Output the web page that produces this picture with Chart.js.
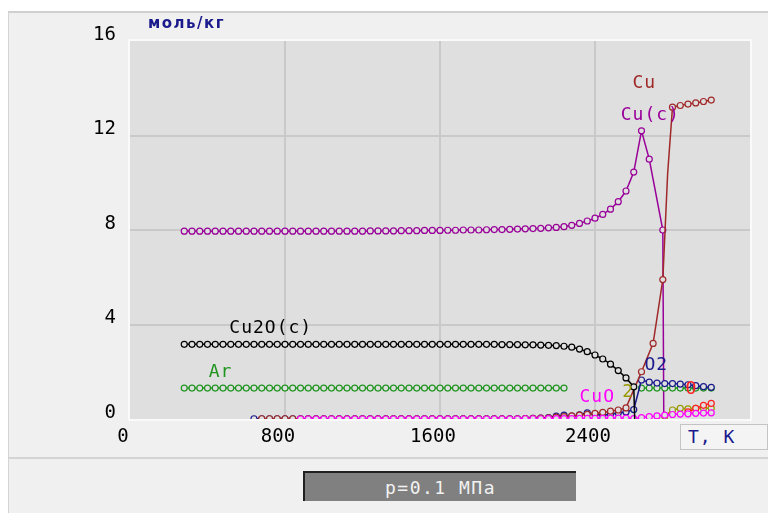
<!DOCTYPE html>
<html>
<head>
<meta charset="utf-8">
<script src="https://cdn.jsdelivr.net/npm/chart.js@4.4.0/dist/chart.umd.min.js"></script>
<style>
  body { margin: 0; background: #fff; width: 768px; height: 513px; overflow: hidden; position: relative; }
  #panel { position: absolute; left: 8px; top: 11px; width: 760px; height: 502px; background: #f0f0f0;
           border-top: 2px solid #cfcfcf; border-left: 1px solid #d4d4d4; box-sizing: border-box; }
  #sep { position: absolute; left: 8px; top: 457px; width: 760px; height: 2px; background: #d4d4d4; }
  #chart { position: absolute; left: 0; top: 0; }
  #units { position: absolute; left: 148px; top: 14px; font: bold 15px "DejaVu Sans"; letter-spacing: 1.5px; color: #1a1a8c; }
  #axisT { position: absolute; left: 680px; top: 424px; width: 88px; height: 26px; border: 1px solid #c4c4c4;
           box-sizing: border-box; background: #f4f4f4; color: #1a1a8c; font: 18px "DejaVu Sans Mono";
           letter-spacing: 1px; padding-left: 7px; line-height: 24px; }
  #press { position: absolute; left: 303px; top: 471px; width: 273px; height: 30px; background: #808080;
           border-top: 2px solid #202020; border-left: 2px solid #202020; box-sizing: border-box; color: #f2f2f2;
           font: 18px "DejaVu Sans Mono"; letter-spacing: 1.5px; text-align: center; line-height: 29px; }
</style>
</head>
<body>
<div id="panel"></div>
<div id="sep"></div>
<canvas id="chart" width="768" height="513"></canvas>
<div id="units">моль/кг</div>
<div id="axisT">T, K</div>
<div id="press">p=0.1 МПа</div>
<script>
// temperature grid, K
const temps = [280, 320, 360, 400, 440, 480, 520, 560, 600, 640,
  680, 720, 760, 800, 840, 880, 920, 960, 1000, 1040,
  1080, 1120, 1160, 1200, 1240, 1280, 1320, 1360, 1400, 1440,
  1480, 1520, 1560, 1600, 1640, 1680, 1720, 1760, 1800, 1840,
  1880, 1920, 1960, 2000, 2040, 2080, 2120, 2160, 2200, 2240,
  2280, 2320, 2360, 2400, 2440, 2480, 2520, 2560, 2600, 2640,
  2680, 2720, 2760, 2800, 2840, 2880, 2920, 2960, 3000];

// mol/kg, aligned to temps
const cuC = [7.95, 7.95, 7.95, 7.95, 7.95, 7.95, 7.95, 7.95, 7.95, 7.95,
  7.95, 7.95, 7.95, 7.95, 7.95, 7.95, 7.95, 7.95, 7.95, 7.95,
  7.95, 7.95, 7.95, 7.95, 7.96, 7.96, 7.96, 7.96, 7.97, 7.97,
  7.97, 7.98, 7.98, 7.98, 7.99, 7.99, 8.00, 8.00, 8.00, 8.01,
  8.02, 8.02, 8.03, 8.04, 8.05, 8.06, 8.07, 8.09, 8.11, 8.14,
  8.20, 8.28, 8.38, 8.50, 8.66, 8.88, 9.20, 9.65, 10.45, 12.20,
  11.00, null, null, null, null, null, null, null, null];
const cuCEdgeT = [2750, 2755];
const cuCEdgeY = [8.0, 0];
const cuCEdgeMark = [true, false];

const cu2o = [3.16, 3.16, 3.16, 3.16, 3.16, 3.16, 3.16, 3.16, 3.16, 3.16,
  3.16, 3.16, 3.16, 3.16, 3.16, 3.16, 3.16, 3.16, 3.16, 3.16,
  3.16, 3.16, 3.16, 3.16, 3.16, 3.16, 3.16, 3.16, 3.16, 3.16,
  3.16, 3.16, 3.16, 3.16, 3.16, 3.16, 3.16, 3.16, 3.16, 3.16,
  3.16, 3.15, 3.15, 3.15, 3.14, 3.14, 3.13, 3.12, 3.11, 3.08,
  3.04, 2.96, 2.85, 2.71, 2.54, 2.32, 2.05, 1.74, 1.36, null,
  null, null, null, null, null, null, null, null, null];
const cu2oEdgeT = [2605];
const cu2oEdgeY = [0];
const cu2oEdgeMark = [false];

const ar = [1.31, 1.31, 1.31, 1.31, 1.31, 1.31, 1.31, 1.31, 1.31, 1.31,
  1.31, 1.31, 1.31, 1.31, 1.31, 1.31, 1.31, 1.31, 1.31, 1.31,
  1.31, 1.31, 1.31, 1.31, 1.31, 1.31, 1.31, 1.31, 1.31, 1.31,
  1.31, 1.31, 1.31, 1.31, 1.31, 1.31, 1.31, 1.31, 1.31, 1.31,
  1.31, 1.31, 1.31, 1.31, 1.31, 1.31, 1.31, 1.31, 1.31, 1.31,
  null, null, null, null, null, null, null, null, null, 1.31,
  1.31, 1.31, 1.31, 1.31, 1.31, 1.31, 1.31, 1.31, 1.31];

const o2 = [null, null, null, null, null, null, null, null, null, 0.01,
  0.01, 0.01, 0.01, 0.01, 0.01, 0.01, 0.01, 0.01, 0.01, 0.01,
  0.01, 0.01, 0.01, 0.01, 0.01, 0.01, 0.01, 0.01, 0.01, 0.01,
  0.01, 0.01, 0.01, 0.01, 0.01, 0.01, 0.01, 0.01, 0.01, 0.01,
  0.01, 0.01, 0.01, 0.01, 0.02, 0.03, 0.04, 0.06, 0.12, 0.16,
  0.12, 0.18, 0.26, 0.20, 0.16, 0.20, 0.25, 0.30, 0.40, 1.65,
  1.56, 1.52, 1.50, 1.50, 1.48, 1.45, 1.41, 1.37, 1.34];

const cu = [null, null, null, null, null, null, null, null, null, null,
  0.01, 0.01, 0.01, 0.01, 0.01, 0.01, 0.01, 0.01, 0.01, 0.01,
  0.01, 0.01, 0.01, 0.01, 0.01, 0.01, 0.01, 0.01, 0.01, 0.01,
  0.01, 0.01, 0.01, 0.01, 0.01, 0.01, 0.01, 0.01, 0.01, 0.01,
  0.01, 0.01, 0.01, 0.01, 0.02, 0.03, 0.04, 0.05, 0.08, 0.10,
  0.13, 0.16, 0.20, 0.24, 0.28, 0.33, 0.38, 0.47, null, 2.00,
  null, null, null, 13.20, 13.27, 13.33, 13.38, 13.44, 13.50];
const cuEdgeT = [2700, 2750, 2775];
const cuEdgeY = [3.2, 5.9, 10.4];
const cuEdgeMark = [true, true, false];

const cuo = [null, null, null, null, null, null, null, null, null, null,
  null, null, null, null, null, 0, 0, 0, 0, 0,
  0, 0, 0, 0, 0, 0, 0, 0, 0, 0,
  0, 0, 0, 0, 0, 0, 0, 0, 0, 0,
  0, 0, 0, 0, 0.01, 0.01, 0.01, 0.02, 0.02, 0.02,
  0.02, 0.03, 0.03, 0.03, 0.03, 0.04, 0.04, 0.04, 0.02, 0.06,
  0.10, 0.13, 0.16, 0.19, 0.21, 0.22, 0.24, 0.25, 0.26];

const oliveT = [2760, 2800, 2840, 2880, 2920, 2960, 3000];
const oliveY = [0.12, 0.38, 0.45, 0.43, 0.45, 0.46, 0.46];

const oT = [2880, 2920, 2960, 3000];
const oY = [0.30, 0.45, 0.58, 0.66];

// series captions placed in data units [text, T, value, colour]
const captions = [
  ["Cu", 2652, 14.22, "#a02828"],
  ["Cu(c)", 2683, 12.87, "#990099"],
  ["Cu2O(c)", 724, 3.85, "#000000"],
  ["Ar", 465, 1.99, "#1f951f"],
  ["CuO", 2409, 0.93, "#ff00ff"],
  ["O2", 2714, 2.29, "#1a1a8c"],
  ["2", 2569, 1.14, "#999900"],
  ["O", 2895, 1.27, "#ff2020"]
];

const xTicks = [0, 800, 1600, 2400];
const yTicks = [0, 4, 8, 12, 16];

function pts(ts, ys, et, ey, em, keepGaps) {
  var out = [];
  ts.forEach(function (t, i) {
    if (ys[i] === null && !keepGaps) return;
    out.push({ x: t, y: ys[i], m: true });
  });
  (et || []).forEach(function (t, i) {
    out.push({ x: t, y: ey[i], m: em[i] });
  });
  out.sort(function (a, b) { return a.x - b.x; });
  return out;
}

function series(data, color, gaps) {
  return {
    data: data,
    borderColor: color,
    borderWidth: 1.5,
    pointBorderColor: color,
    pointBackgroundColor: "#dfdfdf",
    pointBorderWidth: 1.2,
    pointRadius: function (c) { return c.raw && c.raw.m ? 3 : 0; },
    spanGaps: !gaps,
    tension: 0
  };
}

const plotBg = {
  id: "plotBg",
  beforeDraw: function (chart) {
    var a = chart.chartArea, ctx = chart.ctx;
    ctx.save();
    ctx.fillStyle = "#dfdfdf";
    ctx.fillRect(a.left, a.top, a.right - a.left, a.bottom - a.top);
    ctx.strokeStyle = "#fafafa";
    ctx.lineWidth = 2;
    ctx.strokeRect(a.left - 1, a.top - 1, a.right - a.left + 2, a.bottom - a.top + 2);
    ctx.restore();
  }
};

const captionPlugin = {
  id: "captions",
  afterDatasetsDraw: function (chart) {
    var ctx = chart.ctx, xs = chart.scales.x, ys = chart.scales.y;
    ctx.save();
    ctx.font = '18px "DejaVu Sans Mono"';
    ctx.letterSpacing = "1px";
    ctx.textAlign = "center";
    ctx.textBaseline = "middle";
    captions.forEach(function (c) {
      ctx.fillStyle = c[3];
      ctx.fillText(c[0], xs.getPixelForValue(c[1]) + 0.5, ys.getPixelForValue(c[2]));
    });
    ctx.restore();
  }
};

new Chart(document.getElementById("chart"), {
  type: "line",
  data: {
    datasets: [
      series(pts(temps, cu2o, cu2oEdgeT, cu2oEdgeY, cu2oEdgeMark), "#000000"),
      series(pts(temps, cuo), "#ff00ff"),
      series(pts(oT, oY), "#ff2020"),
      series(pts(oliveT, oliveY), "#999900"),
      series(pts(temps, cu, cuEdgeT, cuEdgeY, cuEdgeMark), "#a02828"),
      series(pts(temps, o2), "#1a1a8c"),
      series(pts(temps, ar, null, null, null, true), "#1f951f", true),
      series(pts(temps, cuC, cuCEdgeT, cuCEdgeY, cuCEdgeMark), "#990099")
    ]
  },
  options: {
    responsive: false,
    devicePixelRatio: 1,
    animation: false,
    events: [],
    layout: { padding: { top: 41, right: 18, left: 0, bottom: 0 }, autoPadding: false },
    plugins: { legend: { display: false }, tooltip: { enabled: false } },
    scales: {
      x: {
        type: "linear",
        min: 0,
        max: 3200,
        afterFit: function (s) { s.height = 94; },
        afterBuildTicks: function (s) { s.ticks = xTicks.concat([3200]).map(function (v) { return { value: v }; }); },
        border: { display: false },
        grid: {
          drawTicks: false,
          lineWidth: 2,
          color: function (c) { return (c.tick && (c.tick.value === 0 || c.tick.value === 3200)) ? "rgba(0,0,0,0)" : "#c9c9c9"; }
        },
        ticks: {
          padding: 7,
          labelOffset: -7,
          maxRotation: 0,
          autoSkip: false,
          color: "#000",
          font: { family: "DejaVu Sans Mono", size: 19 },
          callback: function (v) { return xTicks.indexOf(v) >= 0 ? String(v) : ""; }
        }
      },
      y: {
        type: "linear",
        min: 0,
        max: 16,
        afterFit: function (s) { s.width = 130; },
        afterBuildTicks: function (s) { s.ticks = yTicks.map(function (v) { return { value: v }; }); },
        border: { display: false },
        grid: {
          drawTicks: false,
          lineWidth: 2,
          color: function (c) { return (c.tick && (c.tick.value === 0 || c.tick.value === 16)) ? "rgba(0,0,0,0)" : "#c9c9c9"; }
        },
        ticks: {
          padding: 14,
          labelOffset: -6,
          color: "#000",
          font: { family: "DejaVu Sans Mono", size: 19 },
          callback: function (v) { return String(v); }
        }
      }
    }
  },
  plugins: [plotBg, captionPlugin]
});
</script>
</body>
</html>
